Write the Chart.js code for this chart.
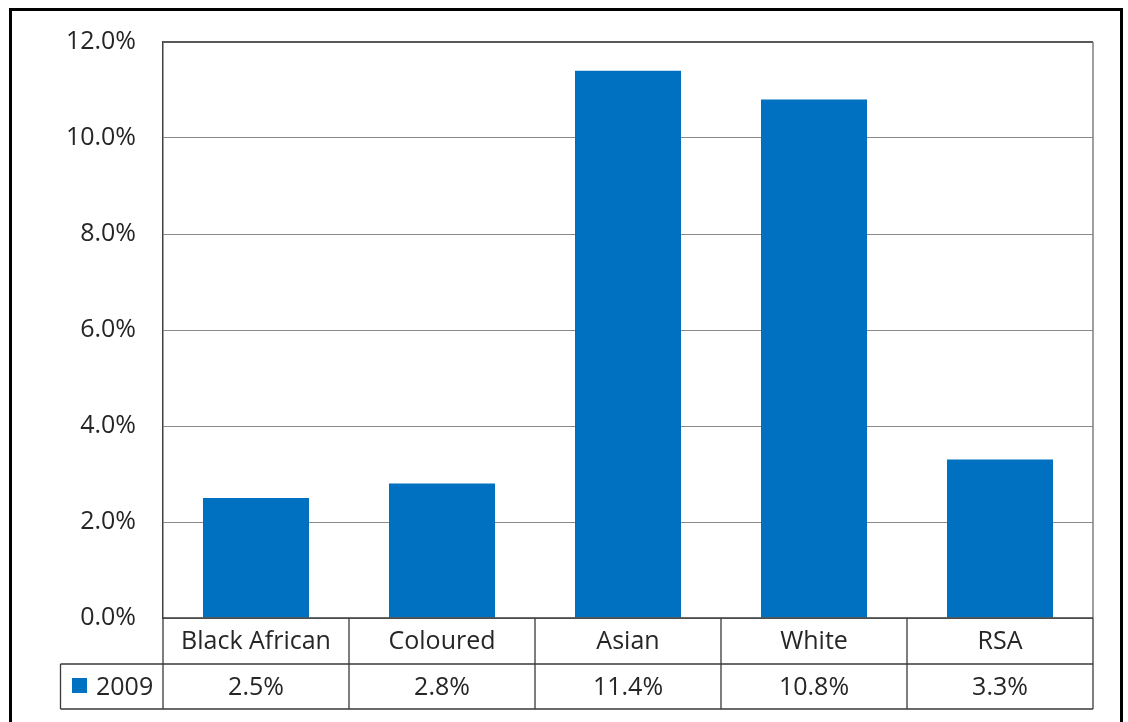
<!DOCTYPE html>
<html>
<head>
<meta charset="utf-8">
<script src="https://cdn.jsdelivr.net/npm/chart.js@4"></script>
<style>
  body { margin: 0; background: #fff; }
  #wrap { width: 1128px; height: 722px; }
</style>
</head>
<body>
<div id="wrap"><canvas id="myChart"></canvas></div>
<script>
const categories = ['Black African', 'Coloured', 'Asian', 'White', 'RSA'];
const seriesName = '2009';
const values = [2.5, 2.8, 11.4, 10.8, 3.3];
const yTicks = [0, 2, 4, 6, 8, 10, 12];

const barColor = '#0070C0';
const textColor = '#262626';
const font = '25px "Open Sans"';

function pct(v) {
    return v.toFixed(1) + '%';
}

// draws the frame and the Excel-style data table under the plot
const tablePlugin = {
    id: 'dataTable',
    beforeDraw(chart) {
        const ctx = chart.ctx;
        ctx.save();
        ctx.fillStyle = '#fff';
        ctx.fillRect(0, 0, chart.width, chart.height);
        ctx.restore();
    },
    afterDraw(chart) {
        const { ctx, chartArea: a, scales: { x } } = chart;
        const step = x.getPixelForValue(1) - x.getPixelForValue(0);
        const row1 = a.bottom + 46;
        const row2 = row1 + 45;
        const legendLeft = 60.5;

        ctx.save();

        // outer frame
        ctx.strokeStyle = '#000';
        ctx.lineWidth = 3;
        ctx.strokeRect(10.5, 9.5, 1111, 800);

        // plot border top and right
        ctx.strokeStyle = '#595959';
        ctx.lineWidth = 2;
        ctx.beginPath();
        ctx.moveTo(a.left, a.top);
        ctx.lineTo(a.right, a.top);
        ctx.stroke();
        ctx.strokeStyle = '#7f7f7f';
        ctx.lineWidth = 1.5;
        ctx.beginPath();
        ctx.moveTo(a.right, a.top);
        ctx.lineTo(a.right, a.bottom);
        ctx.stroke();

        // table lines
        ctx.strokeStyle = '#3a3a3a';
        ctx.lineWidth = 1.3;
        ctx.beginPath();
        ctx.moveTo(a.left, a.bottom);
        ctx.lineTo(a.right, a.bottom);
        ctx.moveTo(legendLeft, row1);
        ctx.lineTo(a.right, row1);
        ctx.moveTo(legendLeft, row2);
        ctx.lineTo(a.right, row2);
        ctx.moveTo(legendLeft, row1);
        ctx.lineTo(legendLeft, row2);
        ctx.moveTo(a.left, a.bottom);
        ctx.lineTo(a.left, row2);
        categories.forEach((c, i) => {
            const right = x.getPixelForValue(i) + step / 2;
            ctx.moveTo(right, a.bottom);
            ctx.lineTo(right, row2);
        });
        ctx.stroke();

        // table text
        ctx.font = font;
        ctx.fillStyle = textColor;
        ctx.textAlign = 'center';
        ctx.textBaseline = 'middle';
        categories.forEach((c, i) => {
            const cx = x.getPixelForValue(i);
            ctx.fillText(c, cx, (a.bottom + row1) / 2 + 1);
            ctx.fillText(pct(values[i]), cx, (row1 + row2) / 2 + 1);
        });

        // legend key
        ctx.fillStyle = barColor;
        ctx.fillRect(72, 678, 15, 15);
        ctx.fillStyle = textColor;
        ctx.textAlign = 'left';
        ctx.fillText(seriesName, 96, (row1 + row2) / 2 + 1);

        ctx.restore();
    }
};

new Chart(document.getElementById('myChart'), {
    type: 'bar',
    data: {
        labels: categories,
        datasets: [{
            label: seriesName,
            data: values,
            backgroundColor: barColor,
            borderWidth: 0,
            barPercentage: 0.57,
            categoryPercentage: 1
        }]
    },
    options: {
        responsive: true,
        maintainAspectRatio: false,
        animation: false,
        layout: {
            padding: { left: 0, top: 42, right: 35, bottom: 104 }
        },
        plugins: {
            legend: { display: false },
            tooltip: { enabled: false }
        },
        scales: {
            x: {
                display: false
            },
            y: {
                min: 0,
                max: 12,
                afterFit(scale) {
                    scale.width = 163;
                },
                afterBuildTicks(scale) {
                    scale.ticks = yTicks.map(v => ({ value: v }));
                },
                ticks: {
                    padding: 27,
                    color: textColor,
                    font: { family: 'Open Sans', size: 25 },
                    callback: v => pct(v)
                },
                grid: {
                    color: '#8a8a8a',
                    lineWidth: 1,
                    drawTicks: false
                },
                border: {
                    color: '#404040',
                    width: 1.5
                }
            }
        }
    },
    plugins: [tablePlugin]
});
</script>
</body>
</html>
